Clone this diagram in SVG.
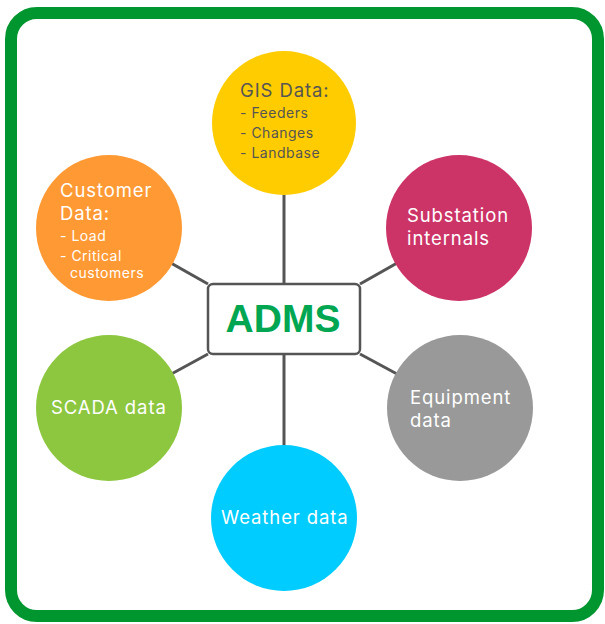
<svg xmlns="http://www.w3.org/2000/svg" width="605" height="624" viewBox="0 0 605 624">
<style>
.lbl{font-family:Inter,"Liberation Sans",sans-serif;font-size:18.5px;letter-spacing:0.9px;fill:#ffffff}
.sm{font-size:14px;letter-spacing:0.5px}
.dk{fill:#555555}
.conn{stroke:#555555;stroke-width:3;fill:none}
</style>
<rect x="0" y="0" width="605" height="624" fill="#ffffff"/>
<rect x="11" y="13" width="587" height="603" rx="26" fill="#ffffff" stroke="#00962F" stroke-width="12"/>
<g id="connectors">
<line class="conn" x1="284" y1="195" x2="284" y2="284"/>
<line class="conn" x1="284" y1="354" x2="284" y2="446"/>
<line class="conn" x1="109" y1="228" x2="208" y2="284"/>
<line class="conn" x1="459" y1="228" x2="360" y2="284"/>
<line class="conn" x1="109" y1="408" x2="208" y2="354"/>
<line class="conn" x1="460" y1="408" x2="360" y2="354"/>
</g>
<g id="gis">
<circle cx="284" cy="123" r="72" fill="#FFCC00"/>
<text class="lbl dk" x="240" y="97">GIS Data:<tspan class="sm" x="240" y="118">- Feeders</tspan><tspan class="sm" x="240" y="138">- Changes</tspan><tspan class="sm" x="240" y="158">- Landbase</tspan></text>
</g>
<g id="customer">
<circle cx="109" cy="228" r="73" fill="#FF9933"/>
<text class="lbl" x="60" y="197">Customer<tspan x="60" y="220">Data:</tspan><tspan class="sm" x="60" y="241">- Load</tspan><tspan class="sm" x="60" y="261">- Critical</tspan><tspan class="sm" x="70" y="278">customers</tspan></text>
</g>
<g id="substation">
<circle cx="459" cy="228" r="73" fill="#CC3366"/>
<text class="lbl" x="407" y="222">Substation<tspan x="407" y="245">internals</tspan></text>
</g>
<g id="scada">
<circle cx="109" cy="408" r="73" fill="#8DC63F"/>
<text class="lbl" x="51" y="414">SCADA data</text>
</g>
<g id="equipment">
<circle cx="460" cy="408" r="73" fill="#999999"/>
<text class="lbl" x="410" y="404">Equipment<tspan x="410" y="427">data</tspan></text>
</g>
<g id="weather">
<circle cx="284" cy="518" r="73" fill="#00CCFF"/>
<text class="lbl" x="221" y="524">Weather data</text>
</g>
<g id="adms">
<rect x="208" y="284" width="152" height="70" rx="5" fill="#ffffff" stroke="#555555" stroke-width="2.5"/>
<text x="283" y="332" text-anchor="middle" font-family="'Liberation Sans',Arial,sans-serif" font-weight="bold" font-size="39" fill="#00A651">ADMS</text>
</g>
</svg>
